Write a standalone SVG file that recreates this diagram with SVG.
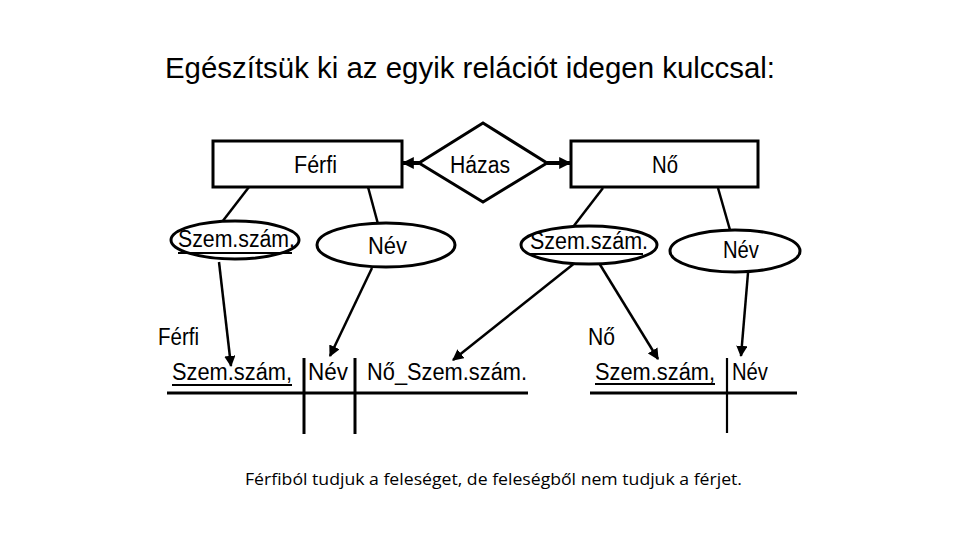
<svg xmlns="http://www.w3.org/2000/svg" width="960" height="540" viewBox="0 0 960 540">
<defs>
<style>
.t{font-family:"Liberation Sans",Arial,sans-serif;font-size:23.5px;fill:#000}
.shape{fill:#fff;stroke:#000;stroke-width:3}
.ln{stroke:#000;stroke-width:2.5;fill:none}
.ar{stroke:#000;stroke-width:2.5;fill:none;marker-end:url(#ah)}
.rel{stroke:#000;stroke-width:3;fill:none}
.ul{stroke:#000;stroke-width:1.8}
</style>
<marker id="ah" viewBox="0 0 10 10" refX="9" refY="5" markerWidth="4.5" markerHeight="4.5" orient="auto" markerUnits="strokeWidth">
<path d="M0,0 L10,5 L0,10 z" fill="#000"/>
</marker>
<marker id="ah2" viewBox="0 0 10 10" refX="9" refY="5" markerWidth="3.5" markerHeight="3" orient="auto" markerUnits="strokeWidth">
<path d="M0,0 L10,5 L0,10 z" fill="#000"/>
</marker>
</defs>
<rect width="960" height="540" fill="#fff"/>
<text class="t" x="165" y="78" style="font-size:30px" textLength="610" lengthAdjust="spacingAndGlyphs">Egészítsük ki az egyik relációt idegen kulccsal:</text>

<g id="connectors">
<line x1="419" y1="163" x2="403" y2="163" stroke="#000" stroke-width="4" marker-end="url(#ah2)"/>
<line x1="547" y1="163" x2="570" y2="163" stroke="#000" stroke-width="4" marker-end="url(#ah2)"/>
<line class="ln" x1="249" y1="187" x2="222" y2="222"/>
<line class="ln" x1="368" y1="187" x2="378" y2="224"/>
<line class="ln" x1="603" y1="188" x2="573" y2="227"/>
<line class="ln" x1="718" y1="188" x2="730" y2="230"/>
<line class="ar" x1="219" y1="262" x2="231" y2="366"/>
<line class="ar" x1="372" y1="268" x2="330" y2="356"/>
<line class="ar" x1="576" y1="262" x2="453" y2="360"/>
<line class="ar" x1="599" y1="263" x2="658" y2="359"/>
<line class="ar" x1="748" y1="273" x2="741" y2="356"/>
</g>

<g id="ferfi">
<rect class="shape" x="213" y="141" width="189" height="46"/>
<text class="t" x="294" y="173" textLength="43" lengthAdjust="spacingAndGlyphs">Férfi</text>
</g>
<g id="hazas">
<polygon class="shape" points="483,123 547,163 483,202 419,163"/>
<text class="t" x="450" y="173" textLength="60" lengthAdjust="spacingAndGlyphs">Házas</text>
</g>
<g id="no">
<rect class="shape" x="571" y="141" width="187" height="46"/>
<text class="t" x="652" y="173" textLength="26" lengthAdjust="spacingAndGlyphs">Nő</text>
</g>

<g id="ferfi-szemszam">
<ellipse class="shape" cx="235" cy="240" rx="64" ry="19"/>
<text class="t" x="178" y="247" textLength="117" lengthAdjust="spacingAndGlyphs">Szem.szám.</text>
<line class="ul" x1="178" y1="253" x2="292" y2="253"/>
</g>
<g id="ferfi-nev">
<ellipse class="shape" cx="386" cy="245" rx="69" ry="22"/>
<text class="t" x="368" y="254" textLength="39" lengthAdjust="spacingAndGlyphs">Név</text>
</g>
<g id="no-szemszam">
<ellipse class="shape" cx="589" cy="245" rx="68" ry="19"/>
<text class="t" x="530" y="249" textLength="118" lengthAdjust="spacingAndGlyphs">Szem.szám.</text>
<line class="ul" x1="530" y1="254" x2="643" y2="254"/>
</g>
<g id="no-nev">
<ellipse class="shape" cx="735" cy="251" rx="65" ry="21"/>
<text class="t" x="723" y="258" textLength="36" lengthAdjust="spacingAndGlyphs">Név</text>
</g>

<g id="ferfi-relacio">
<text class="t" x="158" y="345" textLength="41" lengthAdjust="spacingAndGlyphs">Férfi</text>
<text class="t" x="172" y="380" textLength="120" lengthAdjust="spacingAndGlyphs">Szem.szám,</text>
<line class="ul" x1="172" y1="385" x2="292" y2="385"/>
<text class="t" x="308" y="380" textLength="40" lengthAdjust="spacingAndGlyphs">Név</text>
<text class="t" x="367" y="380" textLength="160" lengthAdjust="spacingAndGlyphs">Nő_Szem.szám.</text>
<line class="rel" x1="167" y1="393" x2="528" y2="393"/>
<line class="rel" x1="304" y1="358" x2="304" y2="434"/>
<line class="rel" x1="355" y1="358" x2="355" y2="434"/>
</g>
<g id="no-relacio">
<text class="t" x="588" y="345" textLength="27" lengthAdjust="spacingAndGlyphs">Nő</text>
<text class="t" x="595" y="380" textLength="120" lengthAdjust="spacingAndGlyphs">Szem.szám,</text>
<line class="ul" x1="595" y1="384" x2="715" y2="384"/>
<text class="t" x="732" y="380" textLength="36" lengthAdjust="spacingAndGlyphs">Név</text>
<line class="rel" x1="590" y1="393" x2="797" y2="393"/>
<line stroke="#000" stroke-width="2.2" x1="727" y1="358" x2="727" y2="433"/>
</g>

<text x="245" y="485" style="font-family:'Open Sans','Noto Sans',sans-serif;font-size:16.5px" textLength="497" lengthAdjust="spacingAndGlyphs">Férfiból tudjuk a feleséget, de feleségből nem tudjuk a férjet.</text>
</svg>
